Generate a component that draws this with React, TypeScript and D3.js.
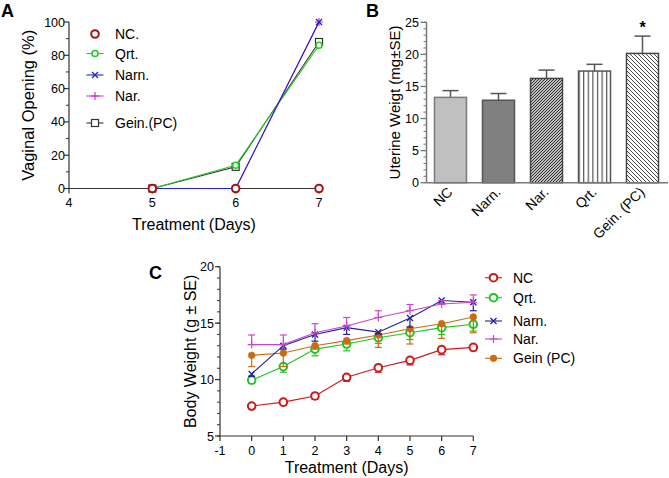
import React from 'react';
import * as d3 from 'd3';

const FONT = '"Liberation Sans", Arial, Helvetica, sans-serif';

// ---------- Panel A: Vaginal opening ----------
const daysA = [5, 6, 7];
const vagNC = [0, 0, 0];
const vagQrt = [0, 14, 86];
const vagNarn = [0, 0, 100];
const vagNar = [0, 0, 100];
const vagGein = [0, 13, 88];
const ticksAX = [4, 5, 6, 7];
const ticksAY = [0, 20, 40, 60, 80, 100];
const minorAY = [10, 30, 50, 70, 90];

// ---------- Panel B: Uterine weight ----------
const uterCats = ['NC', 'Narn.', 'Nar.', 'Qrt.', 'Gein. (PC)'];
const uterMean = [13.3, 12.85, 16.25, 17.4, 20.15];
const uterSE = [1.05, 1.05, 1.3, 1.05, 2.7];
const ticksBY = [0, 5, 10, 15, 20, 25];
const minorBY = d3.range(0, 26, 1);

// ---------- Panel C: Body weight ----------
const daysC = [0, 1, 2, 3, 4, 5, 6, 7];
const bwNC = [7.65, 8.0, 8.55, 10.2, 11.05, 11.7, 12.65, 12.85];
const seNC = [0.25, 0.3, 0.3, 0.35, 0.4, 0.4, 0.45, 0.3];
const bwQrt = [9.95, 11.15, 12.7, 13.15, 13.7, 14.15, 14.6, 14.9];
const seQrt = [0.3, 0.5, 0.6, 0.6, 0.5, 0.6, 0.6, 0.6];
const bwNarn = [10.5, 13.0, 14.0, 14.6, 14.2, 15.45, 17.0, 16.85];
const seNarn = [0.2, 0.3, 0.6, 0.6, 0.15, 0.8, 0.3, 0.75];
const bwNar = [13.1, 13.1, 14.15, 14.75, 15.5, 16.1, 16.7, 16.85];
const seNar = [0.85, 0.85, 0.8, 0.75, 0.6, 0.55, 0.3, 0.65];
const bwGein = [12.15, 12.35, 13.0, 13.45, 13.95, 14.5, 14.95, 15.55];
const seGein = [1.0, 1.2, 0.3, 0.3, 1.1, 1.35, 1.3, 1.4];
const ticksCX = [-1, 0, 1, 2, 3, 4, 5, 6, 7];
const ticksCY = [5, 10, 15, 20];
const minorCY = d3.range(5, 21, 1);

type MType = 'circleOpen' | 'circleSmall' | 'x' | 'plus' | 'square' | 'dot';

function Marker({ type, x, y, color }: { type: MType; x: number; y: number; color: string }) {
  switch (type) {
    case 'circleOpen':
      return <circle cx={x} cy={y} r={3.8} fill="#fff" stroke={color} strokeWidth={2} />;
    case 'circleSmall':
      return <circle cx={x} cy={y} r={3} fill="#fff" stroke={color} strokeWidth={1.6} />;
    case 'x':
      return (
        <path d={`M${x - 3},${y - 3}L${x + 3},${y + 3}M${x - 3},${y + 3}L${x + 3},${y - 3}`} stroke={color} strokeWidth={1.3} />
      );
    case 'plus':
      return <path d={`M${x - 4},${y}L${x + 4},${y}M${x},${y - 4}L${x},${y + 4}`} stroke={color} strokeWidth={1.2} />;
    case 'square':
      return <rect x={x - 3.5} y={y - 3.5} width={7} height={7} fill="#fff" stroke={color} strokeWidth={1.2} />;
    case 'dot':
      return <circle cx={x} cy={y} r={3.4} fill={color} stroke={color} strokeWidth={0.5} />;
  }
  return null;
}

// Panel A scales
const xA = d3.scaleLinear().domain([4, 7]).range([69, 319]);
const yA = d3.scaleLinear().domain([0, 100]).range([188.5, 22]);

// Panel B scales
const xB = d3.scaleBand<string>().domain(uterCats).range([426.5, 666.5]).paddingInner(1 / 3).paddingOuter(1 / 6);
const yB = d3.scaleLinear().domain([0, 25]).range([182.7, 22.3]);

// Panel C scales
const xC = d3.scaleLinear().domain([-1, 7]).range([220, 473.3]);
const yC = d3.scaleLinear().domain([5, 20]).range([436, 266.7]);

const seriesA = [
  { name: 'Gein.(PC)', vals: vagGein, color: '#333333', marker: 'square' as MType, line: true },
  { name: 'Qrt.', vals: vagQrt, color: '#22cc22', marker: 'circleSmall' as MType, line: true },
  { name: 'Nar.', vals: vagNar, color: '#cc33cc', marker: 'plus' as MType, line: true },
  { name: 'Narn.', vals: vagNarn, color: '#2222cc', marker: 'x' as MType, line: true },
  { name: 'NC.', vals: vagNC, color: '#aa1111', marker: 'circleOpen' as MType, line: false },
];
const legendA = ['NC.', 'Qrt.', 'Narn.', 'Nar.', 'Gein.(PC)'];
const legendAY = [34, 53.5, 75, 96, 123];

const seriesC = [
  { name: 'NC', vals: bwNC, se: seNC, dir: 1, color: '#cc1a1a', marker: 'circleOpen' as MType },
  { name: 'Qrt.', vals: bwQrt, se: seQrt, dir: 1, color: '#22c422', marker: 'circleOpen' as MType },
  { name: 'Gein (PC)', vals: bwGein, se: seGein, dir: 1, color: '#cc6a14', marker: 'dot' as MType },
  { name: 'Narn.', vals: bwNarn, se: seNarn, dir: 1, color: '#22229a', marker: 'x' as MType },
  { name: 'Nar.', vals: bwNar, se: seNar, dir: -1, color: '#cc44cc', marker: 'plus' as MType },
];
const legendC = ['NC', 'Qrt.', 'Narn.', 'Nar.', 'Gein (PC)'];
const legendCY = [277.7, 297.7, 321, 339, 358.3];

const barStyles = [
  { fill: '#c0c0c0', stroke: '#7a7a7a' },
  { fill: '#808080', stroke: '#555555' },
  { fill: 'url(#hatchFwd)', stroke: '#444444' },
  { fill: 'url(#hatchVert)', stroke: '#555555' },
  { fill: 'url(#hatchBack)', stroke: '#444444' },
];

export default function App() {
  const lineA = d3
    .line<number>()
    .x((_, i) => xA(daysA[i]))
    .y((d) => yA(d));
  const lineC = d3
    .line<number>()
    .x((_, i) => xC(daysC[i]))
    .y((d) => yC(d));
  const axisCol = '#333';
  const qrtX = xB('Qrt.') as number;

  return (
    <svg
      width={669}
      height={478}
      style={{ position: 'absolute', left: 0, top: 0, background: '#fff' }}
      fontFamily={FONT}
    >
      <defs>
        <pattern id="hatchFwd" patternUnits="userSpaceOnUse" width={3} height={3}>
          <rect width={3} height={3} fill="#fff" />
          <path d="M0,3L3,0M-1,1L1,-1M2,4L4,2" stroke="#222" strokeWidth={1.1} />
        </pattern>
        <pattern id="hatchVert" patternUnits="userSpaceOnUse" x={qrtX} width={4.6} height={10}>
          <rect width={4.6} height={10} fill="#fff" />
          <line x1={0.6} y1={0} x2={0.6} y2={10} stroke="#555" strokeWidth={1.2} />
        </pattern>
        <pattern id="hatchBack" patternUnits="userSpaceOnUse" width={4} height={4}>
          <rect width={4} height={4} fill="#fff" />
          <path d="M0,0L4,4M-1,3L1,5M3,-1L5,1" stroke="#333" strokeWidth={0.9} />
        </pattern>
      </defs>

      {/* ================= Panel A ================= */}
      <text x={1} y={17} fontSize={18} fontWeight="bold">
        A
      </text>
      <g>
        <line x1={xA(4)} x2={xA(7)} y1={yA(0)} y2={yA(0)} stroke={axisCol} strokeWidth={1.2} />
        <line x1={xA(4)} x2={xA(4)} y1={yA(0)} y2={yA(100)} stroke={axisCol} strokeWidth={1.2} />
        {ticksAX.map((t) => (
          <g key={t}>
            <line x1={xA(t)} x2={xA(t)} y1={yA(0)} y2={yA(0) + 5} stroke={axisCol} strokeWidth={1.2} />
            <text x={xA(t)} y={207} fontSize={12.5} textAnchor="middle">
              {t}
            </text>
          </g>
        ))}
        {ticksAY.map((t) => (
          <g key={t}>
            <line x1={xA(4) - 5} x2={xA(4)} y1={yA(t)} y2={yA(t)} stroke={axisCol} strokeWidth={1.2} />
            <text x={65} y={yA(t) + 4.5} fontSize={12.5} textAnchor="end">
              {t}
            </text>
          </g>
        ))}
        {minorAY.map((t) => (
          <line key={t} x1={xA(4) - 3} x2={xA(4)} y1={yA(t)} y2={yA(t)} stroke={axisCol} strokeWidth={1} />
        ))}
        <text x={(xA(4) + xA(7)) / 2} y={229.5} fontSize={16} textAnchor="middle">
          Treatment (Days)
        </text>
        <text transform={`translate(34,${(yA(0) + yA(100)) / 2}) rotate(-90)`} fontSize={16.5} textAnchor="middle">
          Vaginal Opening (%)
        </text>
        {seriesA.map((s) => (
          <g key={s.name}>
            {s.line && <path d={lineA(s.vals) || ''} fill="none" stroke={s.color} strokeWidth={1.1} />}
            {s.vals.map((v, i) => (
              <Marker key={i} type={s.marker} x={xA(daysA[i])} y={yA(v)} color={s.color} />
            ))}
          </g>
        ))}
        {legendA.map((n, i) => {
          const s = seriesA.find((q) => q.name === n)!;
          const y = legendAY[i];
          return (
            <g key={n}>
              {s.line && <line x1={86.5} x2={103.5} y1={y} y2={y} stroke={s.color} strokeWidth={1.1} />}
              <Marker type={s.marker} x={95} y={y} color={s.color} />
              <text x={115} y={y + 5} fontSize={14}>
                {n}
              </text>
            </g>
          );
        })}
      </g>

      {/* ================= Panel B ================= */}
      <text x={366} y={17} fontSize={18} fontWeight="bold">
        B
      </text>
      <g>
        {uterCats.map((c, i) => {
          const x0 = xB(c) as number;
          const w = xB.bandwidth();
          const cx = x0 + w / 2;
          const top = yB(uterMean[i]);
          const errTop = yB(uterMean[i] + uterSE[i]);
          return (
            <g key={c}>
              <line x1={cx} x2={cx} y1={top} y2={errTop} stroke="#555" strokeWidth={1.5} />
              <line x1={cx - 8} x2={cx + 8} y1={errTop} y2={errTop} stroke="#555" strokeWidth={1.5} />
              <rect
                x={x0}
                y={top}
                width={w}
                height={yB(0) - top}
                fill={barStyles[i].fill}
                stroke={barStyles[i].stroke}
                strokeWidth={1.5}
              />
              <text
                transform={`translate(${cx + 3},${193}) rotate(-45)`}
                fontSize={14}
                textAnchor="end"
              >
                {c}
              </text>
            </g>
          );
        })}
        <text x={(xB('Gein. (PC)') as number) + xB.bandwidth() / 2} y={33} fontSize={16} fontWeight="bold" textAnchor="middle">
          *
        </text>
        <line x1={426.5} x2={668} y1={yB(0)} y2={yB(0)} stroke="#777" strokeWidth={1.5} />
        <line x1={426.5} x2={426.5} y1={yB(0)} y2={yB(25)} stroke="#777" strokeWidth={1.5} />
        {minorBY.map((t) => (
          <line key={t} x1={423.5} x2={426.5} y1={yB(t)} y2={yB(t)} stroke="#777" strokeWidth={1} />
        ))}
        {ticksBY.map((t) => (
          <g key={t}>
            <line x1={420.5} x2={426.5} y1={yB(t)} y2={yB(t)} stroke="#777" strokeWidth={1.3} />
            <text x={419} y={yB(t) + 4.5} fontSize={12.5} textAnchor="end">
              {t}
            </text>
          </g>
        ))}
        <text transform={`translate(400,${(yB(0) + yB(25)) / 2}) rotate(-90)`} fontSize={15} textAnchor="middle">
          Uterine Weigt (mg±SE)
        </text>
      </g>

      {/* ================= Panel C ================= */}
      <text x={149} y={279} fontSize={18} fontWeight="bold">
        C
      </text>
      <g>
        <line x1={xC(-1)} x2={xC(7)} y1={yC(5)} y2={yC(5)} stroke={axisCol} strokeWidth={1.2} />
        <line x1={xC(-1)} x2={xC(-1)} y1={yC(5)} y2={yC(20)} stroke={axisCol} strokeWidth={1.2} />
        {ticksCX.map((t) => (
          <g key={t}>
            <line x1={xC(t)} x2={xC(t)} y1={yC(5)} y2={yC(5) + 5} stroke={axisCol} strokeWidth={1.2} />
            <text x={xC(t)} y={455} fontSize={12.5} textAnchor="middle">
              {t}
            </text>
          </g>
        ))}
        {minorCY.map((t) => (
          <line key={t} x1={xC(-1) - 3} x2={xC(-1)} y1={yC(t)} y2={yC(t)} stroke={axisCol} strokeWidth={1} />
        ))}
        {ticksCY.map((t) => (
          <g key={t}>
            <line x1={xC(-1) - 5} x2={xC(-1)} y1={yC(t)} y2={yC(t)} stroke={axisCol} strokeWidth={1.2} />
            <text x={214} y={yC(t) + 4.5} fontSize={12.5} textAnchor="end">
              {t}
            </text>
          </g>
        ))}
        <text x={(xC(-1) + xC(7)) / 2} y={473} fontSize={16} textAnchor="middle">
          Treatment (Days)
        </text>
        <text transform={`translate(196,${(yC(5) + yC(20)) / 2}) rotate(-90)`} fontSize={16} textAnchor="middle">
          Body Weight (g ± SE)
        </text>
        {seriesC.map((s) => (
          <g key={s.name}>
            {s.vals.map((v, i) => {
              const x = xC(daysC[i]);
              const ye = yC(v - s.dir * s.se[i]);
              return (
                <g key={i}>
                  <line x1={x} x2={x} y1={yC(v)} y2={ye} stroke={s.color} strokeWidth={1.2} />
                  <line x1={x - 3.5} x2={x + 3.5} y1={ye} y2={ye} stroke={s.color} strokeWidth={1.2} />
                </g>
              );
            })}
            <path d={lineC(s.vals) || ''} fill="none" stroke={s.color} strokeWidth={1.1} />
            {s.vals.map((v, i) => (
              <Marker key={i} type={s.marker} x={xC(daysC[i])} y={yC(v)} color={s.color} />
            ))}
          </g>
        ))}
        {legendC.map((n, i) => {
          const s = seriesC.find((q) => q.name === n)!;
          const y = legendCY[i];
          return (
            <g key={n}>
              <line x1={485} x2={502} y1={y} y2={y} stroke={s.color} strokeWidth={1.1} />
              <Marker type={s.marker} x={493.5} y={y} color={s.color} />
              <text x={513} y={y + 5} fontSize={14}>
                {n}
              </text>
            </g>
          );
        })}
      </g>
    </svg>
  );
}
